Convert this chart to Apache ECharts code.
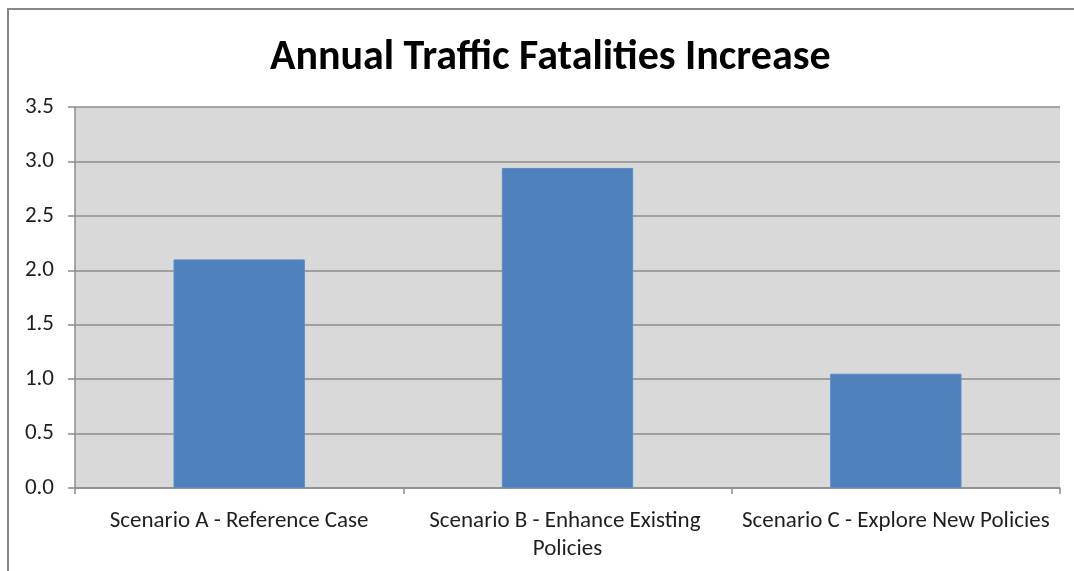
<!DOCTYPE html>
<html>
<head>
<meta charset="utf-8">
<script src="https://cdn.jsdelivr.net/npm/echarts@6/dist/echarts.min.js"></script>
<style>
  html, body { margin: 0; padding: 0; background: #ffffff; }
  #frame {
    position: absolute; left: 7px; top: 8px; width: 1067px; height: 563px;
    border-left: 2px solid #878787; border-top: 2px solid #878787;
    box-sizing: border-box;
  }
  #chart { position: absolute; left: 0; top: 0; width: 1074px; height: 571px; }
</style>
</head>
<body>
<div id="frame"></div>
<div id="chart"></div>
<script>
// Annual increase in traffic fatalities per scenario
const categories = [
  'Scenario A - Reference Case',
  'Scenario B - Enhance Existing Policies',
  'Scenario C - Explore New Policies'
];
const fatalityIncrease = [2.10, 2.94, 1.05];
const yTicks = { min: 0, max: 3.5, interval: 0.5 };

const FONT = 'Carlito, Calibri, Lato, sans-serif';

const chart = echarts.init(document.getElementById('chart'), null, { renderer: 'canvas' });
chart.setOption({
  animation: false,
  backgroundColor: 'transparent',
  title: {
    text: 'Annual Traffic Fatalities Increase',
    left: 265,
    top: 32,
    textStyle: { fontFamily: FONT, fontSize: 42, fontWeight: 'bold', color: '#000000' }
  },
  grid: { left: 75, right: 14, top: 107, bottom: 83, show: true, backgroundColor: '#d9d9d9', borderWidth: 0 },
  xAxis: {
    type: 'category',
    data: categories,
    axisLine: { lineStyle: { color: '#8c8c8c', width: 1.5 } },
    axisTick: { show: true, length: 6, alignWithLabel: false, lineStyle: { color: '#8c8c8c', width: 1.5 } },
    axisLabel: {
      interval: 0,
      margin: 19,
      color: '#1e1e1e',
      fontFamily: FONT,
      fontSize: 23,
      lineHeight: 28,
      width: 325,
      overflow: 'break'
    },
    splitLine: { show: false }
  },
  yAxis: {
    type: 'value',
    min: yTicks.min,
    max: yTicks.max,
    interval: yTicks.interval,
    axisLine: { show: true, lineStyle: { color: '#8c8c8c', width: 1.5 } },
    axisTick: { show: true, length: 7, lineStyle: { color: '#8c8c8c', width: 1.5 } },
    axisLabel: {
      margin: 21,
      color: '#1e1e1e',
      fontFamily: FONT,
      fontSize: 23,
      formatter: v => v.toFixed(1)
    },
    splitLine: { show: true, lineStyle: { color: '#8c8c8c', width: 1.5 } }
  },
  series: [{
    type: 'bar',
    data: fatalityIncrease,
    barWidth: '40%',
    itemStyle: { color: '#4f81bd', borderColor: '#5b8cc6', borderWidth: 1 }
  }]
});
</script>
</body>
</html>
